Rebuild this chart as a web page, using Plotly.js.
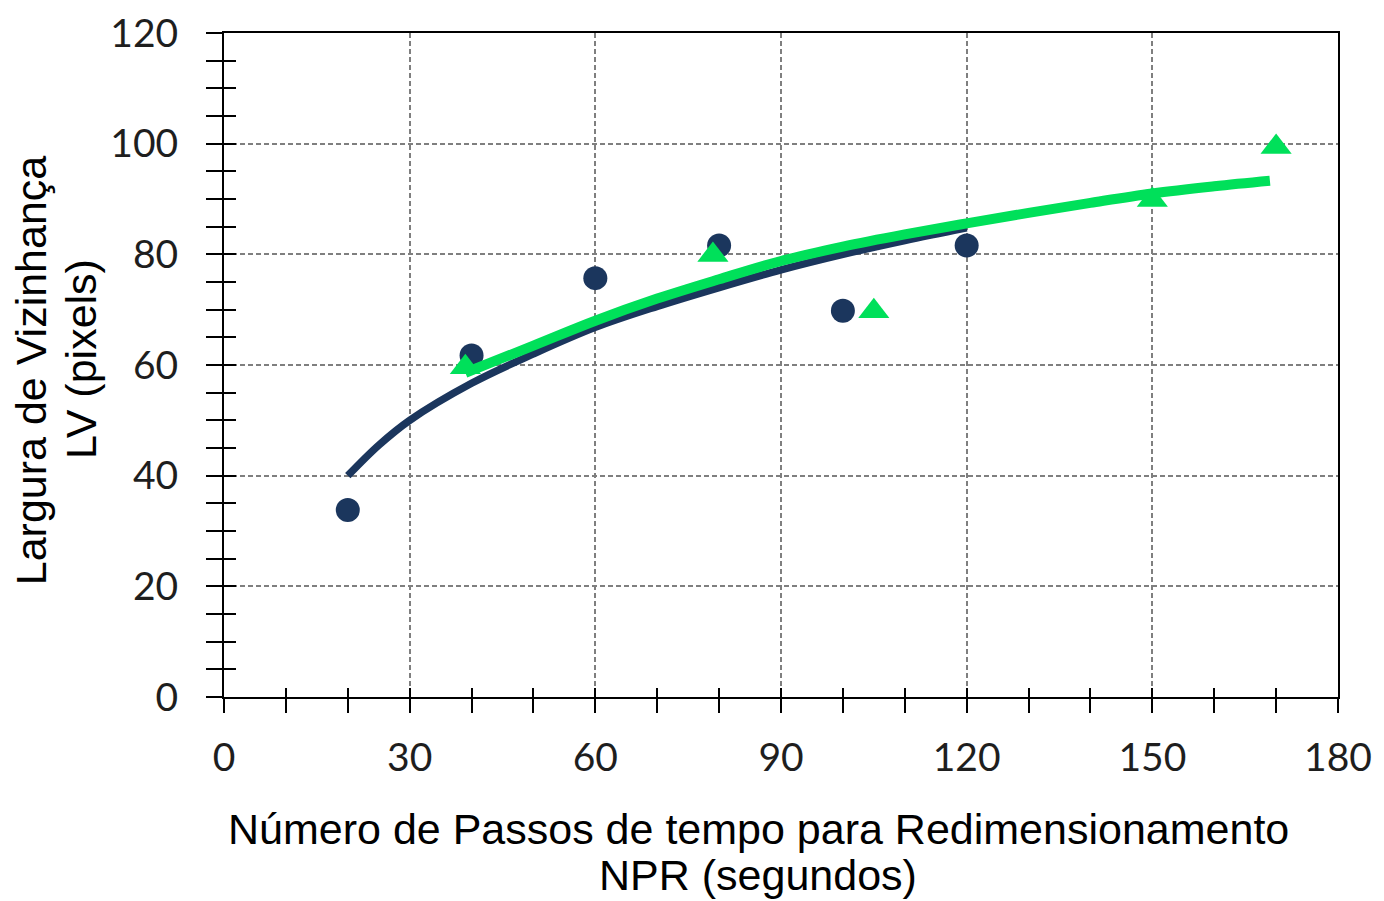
<!DOCTYPE html>
<html>
<head>
<meta charset="utf-8">
<script src="https://cdn.plot.ly/plotly-3.0.1.min.js"></script>
<style>html,body{margin:0;padding:0;background:#fff;}#chart{width:1384px;height:901px;}</style>
</head>
<body>
<div id="chart"></div>
<script>
// Observed points (navy circles)
const navyX = [20, 40, 60, 80, 100, 120];
const navyY = [33.8, 61.7, 75.7, 81.6, 69.8, 81.6];
// Observed points (green triangles)
const greenX = [39, 79, 105, 150, 170];
const greenY = [59.6, 79.9, 69.7, 89.8, 99.4];
// Trend curves
const navyTrendX = [20, 25, 30, 40, 50, 60, 70, 80, 90, 100, 110, 120];
const navyTrendY = [40.0, 45.5, 50.0, 56.7, 62.0, 66.8, 70.6, 74.0, 77.2, 80.0, 82.5, 84.8];
const greenTrendX = [39, 50, 60, 70, 80, 90, 100, 110, 120, 130, 140, 150, 160, 169];
const greenTrendY = [58.6, 63.5, 68.0, 72.0, 75.5, 78.8, 81.4, 83.6, 85.6, 87.5, 89.3, 91.0, 92.3, 93.3];
// Axis texts
const xTitleLines = ["Número de Passos de tempo para Redimensionamento", "NPR (segundos)"];
const yTitleLines = ["Largura de Vizinhança", "LV (pixels)"];

const navy = '#1b365d';
const green = '#00e05a';

const traces = [
  {x: navyTrendX, y: navyTrendY, mode: 'lines', line: {color: navy, width: 7.5, shape: 'spline'}, hoverinfo: 'skip'},
  {x: navyX, y: navyY, mode: 'markers', marker: {symbol: 'circle', size: 24, color: navy}},
  {x: greenTrendX, y: greenTrendY, mode: 'lines', line: {color: green, width: 10, shape: 'spline'}, xaxis: 'x2', yaxis: 'y2', hoverinfo: 'skip'},
  {x: greenX, y: greenY, mode: 'markers', marker: {symbol: 'triangle-up', size: 27, color: green}, xaxis: 'x2', yaxis: 'y2'}
];

const tickFont = {family: 'Lato, "Open Sans", sans-serif', size: 39, color: '#1e1e1e'};
const titleFont = {family: '"Liberation Sans", Arial, sans-serif', size: 43, color: '#000'};

const layout = {
  width: 1384, height: 901,
  margin: {l: 224, r: 46, t: 33, b: 204},
  paper_bgcolor: '#fff', plot_bgcolor: '#fff',
  showlegend: false,
  xaxis: {
    range: [0, 180], dtick: 30, tick0: 0,
    ticks: 'outside', ticklen: 14, tickwidth: 2, tickcolor: '#000',
    minor: {dtick: 10, ticks: 'outside', ticklen: 14, tickwidth: 2, tickcolor: '#000', showgrid: false},
    showline: true, linecolor: '#000', linewidth: 2, mirror: true,
    showgrid: true, gridcolor: '#7f7f7f', gridwidth: 2, griddash: '5px,3px',
    zeroline: false, tickfont: tickFont, ticklabelstandoff: 11, fixedrange: true
  },
  xaxis2: {
    range: [0, 180], overlaying: 'x', side: 'bottom', dtick: 10, tick0: 0,
    ticks: 'inside', ticklen: 9, tickwidth: 2, tickcolor: '#000',
    showticklabels: false, showgrid: false, zeroline: false, showline: false, fixedrange: true
  },
  yaxis: {
    range: [0, 120], dtick: 20, tick0: 0,
    ticks: 'outside', ticklen: 16, tickwidth: 2, tickcolor: '#000',
    minor: {dtick: 5, ticks: 'outside', ticklen: 16, tickwidth: 2, tickcolor: '#000', showgrid: false},
    showline: true, linecolor: '#000', linewidth: 2, mirror: true,
    showgrid: true, gridcolor: '#7f7f7f', gridwidth: 2, griddash: '5px,3px',
    zeroline: false, tickfont: tickFont, ticklabelstandoff: 20, fixedrange: true
  },
  yaxis2: {
    range: [0, 120], overlaying: 'y', side: 'left', dtick: 5, tick0: 0,
    ticks: 'inside', ticklen: 12, tickwidth: 2, tickcolor: '#000',
    showticklabels: false, showgrid: false, zeroline: false, showline: false, fixedrange: true
  },
  annotations: [
    {text: xTitleLines[0], xref: 'paper', yref: 'paper', x: 0.4794, y: -0.1988, xanchor: 'center', yanchor: 'middle', showarrow: false, font: titleFont},
    {text: xTitleLines[1], xref: 'paper', yref: 'paper', x: 0.4794, y: -0.268, xanchor: 'center', yanchor: 'middle', showarrow: false, font: titleFont},
    {text: yTitleLines[0], xref: 'paper', yref: 'paper', x: -0.173, y: 0.4925, xanchor: 'center', yanchor: 'middle', textangle: -90, showarrow: false, font: titleFont},
    {text: yTitleLines[1], xref: 'paper', yref: 'paper', x: -0.1284, y: 0.509, xanchor: 'center', yanchor: 'middle', textangle: -90, showarrow: false, font: titleFont}
  ]
};

Plotly.newPlot('chart', traces, layout, {staticPlot: true, displayModeBar: false});
</script>
</body>
</html>
